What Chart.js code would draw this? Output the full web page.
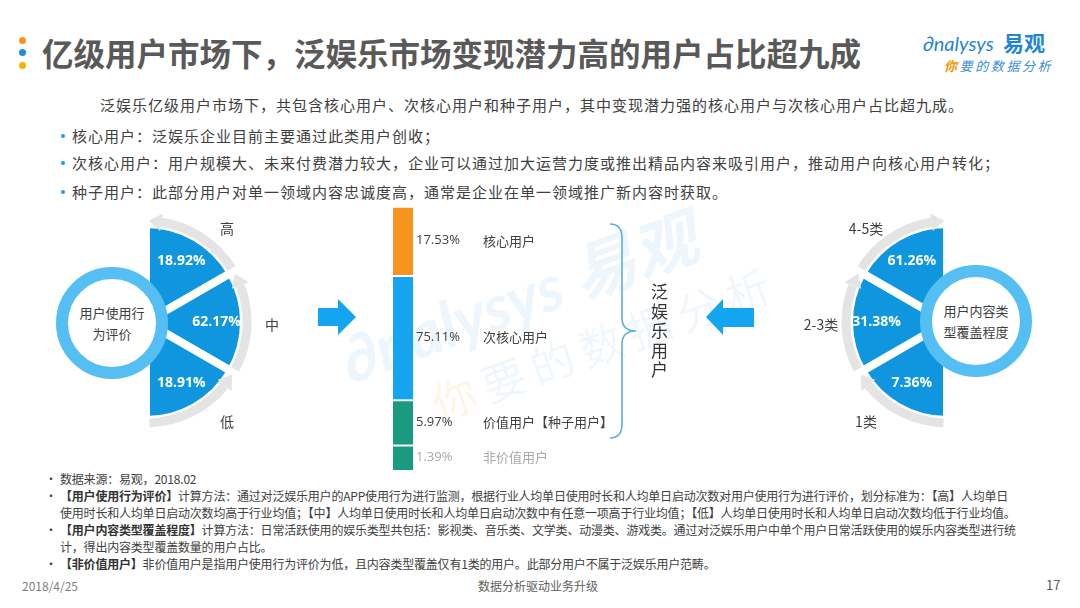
<!DOCTYPE html>
<html lang="zh-CN">
<head>
<meta charset="UTF-8">
<title>泛娱乐用户占比</title>
<script src="https://cdn.jsdelivr.net/npm/chart.js"></script>
<style>
  body { margin: 0; width: 1080px; height: 608px; position: relative; overflow: hidden; background: #fff;
         font-family: 'Noto Sans CJK SC', 'Open Sans', sans-serif; color: #404040; }
  .abs { position: absolute; white-space: nowrap; }
  canvas { position: absolute; }
  .dot { position: absolute; width: 7px; height: 7px; border-radius: 50%; left: 19px; }
  .title { left: 42px; top: 34px; font-size: 31.5px; line-height: 36px; font-weight: bold; color: #595959; }
  .lead { font-size: 15px; letter-spacing: 1px; line-height: 20px; }
  .bl { position: absolute; left: 61px; width: 4px; height: 4px; border-radius: 50%; background: #1a9be6; }
  .note { font-size: 12px; line-height: 16px; letter-spacing: -0.2px; left: 60px; }
  .note b { color: #333; }
  .nb { font-size: 12px; line-height: 16px; left: 45px; }
  .ring { position: absolute; box-sizing: border-box; width: 112px; height: 112px; border-radius: 50%;
          border: 12px solid #55bff4; background: #fff; display: flex; align-items: center; justify-content: center;
          text-align: center; font-size: 13px; line-height: 21px; color: #404040; z-index: 3; }
  .watermark { left: 330px; top: 325px; transform: rotate(-20deg); transform-origin: left top; color: rgba(20, 130, 210, 0.075); z-index: 0; }
</style>
</head>
<body>

<div class="dot" style="top:37px;background:#f7941d"></div>
<div class="dot" style="top:49px;background:#1a8fe0"></div>
<div class="dot" style="top:62px;background:#f5b400"></div>
<div class="abs title">亿级用户市场下，泛娱乐市场变现潜力高的用户占比超九成</div>

<div class="abs" style="left:923px;top:30px;font-family:Lato;font-size:20px;line-height:26px;color:#1f86d3;font-style:italic">∂nalysys</div>
<div class="abs" style="left:1003px;top:29px;font-size:21px;line-height:26px;color:#1f86d3;font-weight:bold">易观</div>
<div class="abs" style="left:944px;top:57px;font-size:13px;line-height:18px;color:#3a8fd6;font-style:italic;letter-spacing:2.6px"><span style="color:#f39800;font-weight:bold">你</span>要的数据分析</div>

<div class="abs lead" style="left:100px;top:95px">泛娱乐亿级用户市场下，共包含核心用户、次核心用户和种子用户，其中变现潜力强的核心用户与次核心用户占比超九成。</div>
<div class="bl" style="top:134px"></div>
<div class="abs lead" style="left:72px;top:126px">核心用户：泛娱乐企业目前主要通过此类用户创收；</div>
<div class="bl" style="top:161px"></div>
<div class="abs lead" style="left:72px;top:153px">次核心用户：用户规模大、未来付费潜力较大，企业可以通过加大运营力度或推出精品内容来吸引用户，推动用户向核心用户转化；</div>
<div class="bl" style="top:190px"></div>
<div class="abs lead" style="left:72px;top:182px">种子用户：此部分用户对单一领域内容忠诚度高，通常是企业在单一领域推广新内容时获取。</div>

<div class="abs watermark">
  <div style="font-family:Lato;font-size:64px;line-height:70px;font-weight:bold;font-style:italic">∂nalysys <span style="font-family:'Noto Sans CJK SC'">易观</span></div>
  <div style="font-size:44px;line-height:50px;margin:10px 0 0 70px;letter-spacing:8px"><span style="color:rgba(243,152,0,0.11)">你</span>要的数据分析</div>
</div>

<canvas id="behaviorChart" width="390" height="244" style="left:0;top:200px;z-index:1"></canvas>
<canvas id="coverageChart" width="364" height="244" style="left:716px;top:200px;z-index:1"></canvas>
<canvas id="userChart" width="260" height="264" style="left:393px;top:206px;z-index:1"></canvas>

<div class="ring" style="left:56px;top:267px">用户使用行<br>为评价</div>
<div class="ring" style="left:920px;top:265px">用户内容类<br>型覆盖程度</div>

<svg class="abs" width="1080" height="608" style="left:0;top:0;z-index:2" xmlns="http://www.w3.org/2000/svg">
  <polygon points="318,308 338,308 338,299 356,317 338,335 338,326 318,326" fill="#13a5f0"/>
  <polygon points="754,308 723,308 723,299 706,317 723,335 723,327 754,327" fill="#13a5f0"/>
  <path d="M610,224 Q622,224 622,238 L622,318 Q622,331 636,331 Q622,331 622,344 L622,424 Q622,438 610,438"
        fill="none" stroke="#5dade2" stroke-width="1.6"/>
</svg>
<div class="abs" style="left:651px;top:281px;width:18px;font-size:17px;line-height:19.5px;white-space:normal;color:#333;z-index:2">泛娱乐用户</div>

<div class="abs nb" style="top:471px">•</div>
<div class="abs note" style="top:471px">数据来源：易观，2018.02</div>
<div class="abs nb" style="top:488px">•</div>
<div class="abs note" style="top:488px"><b>【用户使用行为评价】</b>计算方法：通过对泛娱乐用户的APP使用行为进行监测，根据行业人均单日使用时长和人均单日启动次数对用户使用行为进行评价，划分标准为：【高】人均单日</div>
<div class="abs note" style="top:505px">使用时长和人均单日启动次数均高于行业均值；【中】人均单日使用时长和人均单日启动次数中有任意一项高于行业均值；【低】人均单日使用时长和人均单日启动次数均低于行业均值。</div>
<div class="abs nb" style="top:522px">•</div>
<div class="abs note" style="top:522px"><b>【用户内容类型覆盖程度】</b>计算方法：日常活跃使用的娱乐类型共包括：影视类、音乐类、文学类、动漫类、游戏类。通过对泛娱乐用户中单个用户日常活跃使用的娱乐内容类型进行统</div>
<div class="abs note" style="top:539px">计，得出内容类型覆盖数量的用户占比。</div>
<div class="abs nb" style="top:556px">•</div>
<div class="abs note" style="top:556px"><b>【非价值用户】</b>非价值用户是指用户使用行为评价为低，且内容类型覆盖仅有1类的用户。此部分用户不属于泛娱乐用户范畴。</div>

<div class="abs" style="left:22px;top:578px;font-size:12px;line-height:16px;color:#808080">2018/4/25</div>
<div class="abs" style="left:478px;top:578px;font-size:12px;line-height:16px;color:#606060">数据分析驱动业务升级</div>
<div class="abs" style="left:1046px;top:577px;font-size:13px;line-height:16px;color:#606060">17</div>

<script>
  // 用户使用行为评价（上 -> 下）
  const behaviorLabels = ['高', '中', '低'];
  const behaviorShares = [18.92, 62.17, 18.91];

  // 用户内容类型覆盖程度（上 -> 下）
  const coverageLabels = ['4-5类', '2-3类', '1类'];
  const coverageShares = [61.26, 31.38, 7.36];

  // 中间的用户分层（上 -> 下）
  const userTypes = ['核心用户', '次核心用户', '价值用户【种子用户】', '非价值用户'];
  const userShares = [17.53, 75.11, 5.97, 1.39];
  const userColors = ['#f7941d', '#16a3f0', '#1a9a80', '#1a9a80'];

  Chart.defaults.font.family = "'Noto Sans CJK SC', 'Open Sans', sans-serif";

  // 灰色弧形箭头 + 扇区内的百分比 + 外侧的分类名
  const arcDecor = {
    id: 'arcDecor',
    afterDatasetsDraw(chart) {
      const ctx = chart.ctx;
      const ds = chart.data.datasets[0];
      const meta = chart.getDatasetMeta(0);
      const deg = Math.PI / 180;
      const toLeft = chart.options.rotation === 0;  // 左图箭头逆时针，右图顺时针
      const grey = '#e4e4e4';

      meta.data.forEach((arc, i) => {
        const R = arc.outerRadius + 3;
        const p = (a, r) => [arc.x + Math.cos(a) * r, arc.y + Math.sin(a) * r];
        const headLen = 13 / R;
        let head, tail, dir;
        if (toLeft) { head = arc.startAngle + 1.5 * deg; tail = arc.endAngle - 2 * deg; dir = -1; }
        else { head = arc.endAngle - 1.5 * deg; tail = arc.startAngle + 2 * deg; dir = 1; }
        const base = head - dir * headLen;

        ctx.save();
        ctx.strokeStyle = grey;
        ctx.lineWidth = 9;
        ctx.beginPath();
        ctx.arc(arc.x, arc.y, R, tail, base, dir < 0);
        ctx.stroke();
        ctx.fillStyle = grey;
        ctx.beginPath();
        ctx.moveTo(...p(base, R - 9));
        ctx.lineTo(...p(base, R + 9));
        ctx.lineTo(...p(head, R));
        ctx.closePath();
        ctx.fill();

        // 百分比
        const mid = (arc.startAngle + arc.endAngle) / 2;
        ctx.fillStyle = '#fff';
        ctx.font = "bold 14px 'Open Sans'";
        ctx.textAlign = 'center';
        ctx.textBaseline = 'middle';
        const lp = p(mid, arc.outerRadius * 0.72);
        ctx.fillText(ds.shares[i].toFixed(2) + '%', lp[0], lp[1]);

        // 分类名，向水平方向稍微靠拢
        const horiz = Math.cos(mid) >= 0 ? 0 : Math.PI;
        let a = mid;
        if (Math.abs(mid - horiz) > 0.01) a += (horiz > mid ? 1 : -1) * 10 * deg;
        ctx.fillStyle = '#404040';
        ctx.font = "14px 'Noto Sans CJK SC'";
        const tp = p(a, 126);
        ctx.fillText(chart.data.labels[i], tp[0], tp[1] + 3);
        ctx.restore();
      });
    }
  };

  function halfPie(canvasId, labels, shares, opensRight) {
    // 右图从底部开始顺时针画，所以顺序反过来
    const order = opensRight ? labels.map((_, i) => i) : labels.map((_, i) => labels.length - 1 - i);
    return new Chart(document.getElementById(canvasId), {
      type: 'pie',
      data: {
        labels: order.map(i => labels[i]),
        datasets: [{
          data: order.map(() => 1),   // 原图扇区等分，数值只作为标签
          shares: order.map(i => shares[i]),
          backgroundColor: '#0f96de',
          borderColor: '#ffffff',
          borderWidth: 8
        }]
      },
      options: {
        responsive: false,
        animation: false,
        rotation: opensRight ? 0 : 180,
        circumference: 180,
        radius: 98,
        plugins: { legend: { display: false }, tooltip: { enabled: false } }
      },
      plugins: [arcDecor]
    });
  }

  halfPie('behaviorChart', behaviorLabels, behaviorShares, true);
  halfPie('coverageChart', coverageLabels, coverageShares, false);

  // 中间的竖条：原图不是线性比例，这里用压缩比例 v^0.4 来画
  const compress = v => Math.pow(v, 0.4);
  const stackTotal = userShares.reduce((s, v) => s + compress(v), 0);

  const barLabels = {
    id: 'barLabels',
    afterDatasetsDraw(chart) {
      const ctx = chart.ctx;
      chart.data.datasets.forEach((ds, di) => {
        const bar = chart.getDatasetMeta(di).data[0];
        const cy = (bar.y + bar.base) / 2;
        const right = bar.x + bar.width / 2;
        ctx.save();
        ctx.textBaseline = 'middle';
        ctx.textAlign = 'left';
        ctx.fillStyle = ds.faded ? '#aaaaaa' : '#404040';
        ctx.font = "13px 'Open Sans'";
        ctx.fillText(ds.share.toFixed(2) + '%', right + 3, cy);
        ctx.font = "13px 'Noto Sans CJK SC'";
        ctx.fillText(ds.label, right + 70, cy);
        ctx.restore();
      });
    }
  };

  // 堆叠从下往上，所以数据集顺序反过来
  const userDatasets = userTypes.map((name, i) => ({
    label: name,
    share: userShares[i],
    faded: i === userTypes.length - 1,
    data: [compress(userShares[i])],
    backgroundColor: userColors[i],
    borderColor: '#ffffff',
    borderWidth: { top: 2, right: 0, bottom: 0, left: 0 },
    borderSkipped: false
  })).reverse();

  new Chart(document.getElementById('userChart'), {
    type: 'bar',
    data: { labels: ['用户'], datasets: userDatasets },
    options: {
      responsive: false,
      animation: false,
      layout: { padding: { right: 240 } },
      datasets: { bar: { categoryPercentage: 1, barPercentage: 1 } },
      scales: {
        x: { stacked: true, display: false },
        y: { stacked: true, display: false, min: 0, max: stackTotal }
      },
      plugins: { legend: { display: false }, tooltip: { enabled: false } }
    },
    plugins: [barLabels]
  });
</script>
</body>
</html>
